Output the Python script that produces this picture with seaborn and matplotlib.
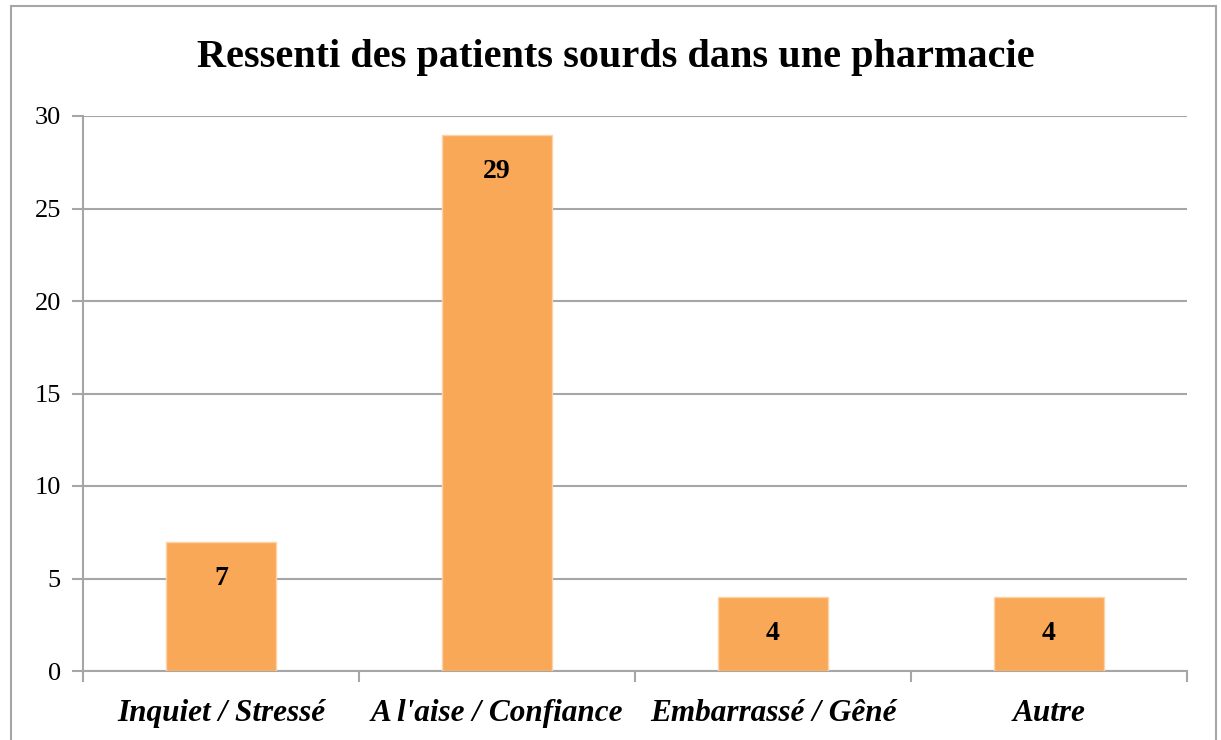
import matplotlib
matplotlib.use("Agg")
import matplotlib.pyplot as plt
import seaborn as sns
import pandas as pd
from matplotlib.patches import Rectangle

categories = ["Inquiet / Stressé", "A l'aise / Confiance", "Embarrassé / Gêné", "Autre"]
values = [7, 29, 4, 4]
yticks = [0, 5, 10, 15, 20, 25, 30]
title = "Ressenti des patients sourds dans une pharmacie"

df = pd.DataFrame({"cat": categories, "val": values})

sns.set_theme(style="white")
plt.rcParams['font.family'] = ['Liberation Serif', 'DejaVu Serif']

W, H = 1221, 740
fig = plt.figure(figsize=(W / 100, H / 100), dpi=100)
L, R, T, B = 83, 1187, 116, 671
ax = fig.add_axes([L / W, 1 - B / H, (R - L) / W, (B - T) / H])

sns.barplot(data=df, x="cat", y="val", color="#F9A857", width=0.4, ax=ax,
            saturation=1, edgecolor="#FBD3A6", linewidth=1, zorder=3)

ax.set_ylim(0, 30)
ax.set_xlim(-0.5, len(categories) - 0.5)
ax.set_yticks(yticks)
ax.set_yticklabels([str(t) for t in yticks], fontsize=19)
ax.yaxis.grid(True, color="#A6A6A6", linewidth=1.5, zorder=0)
ax.set_axisbelow(True)
ax.set_xlabel("")
ax.set_ylabel("")

for s in ["top", "right"]:
    ax.spines[s].set_visible(False)
for s in ["left", "bottom"]:
    ax.spines[s].set_color("#A6A6A6")
    ax.spines[s].set_linewidth(1.5)

ax.tick_params(axis="y", length=8, width=1.5, color="#A6A6A6", pad=8, labelcolor="black", left=True)
# category ticks at boundaries
ax.set_xticks([i - 0.5 for i in range(len(categories) + 1)], minor=False)
ax.set_xticklabels([""] * (len(categories) + 1))
ax.tick_params(axis="x", which="major", length=8, width=1.5, color="#A6A6A6", bottom=True)
ax.set_xticks(range(len(categories)), minor=True)
ax.set_xticklabels(categories, minor=True, fontsize=22.5, fontweight="bold", fontstyle="italic")
ax.tick_params(axis="x", which="minor", length=0, pad=20, labelcolor="black")

for i, v in enumerate(values):
    ax.annotate(str(v), (i, v), xytext=(0, -37), textcoords="offset pixels",
                ha="center", va="center", fontsize=20, fontweight="bold", color="black")

fig.text(616 / W, 1 - 58 / H, title, ha="center", va="center",
         fontsize=29, fontweight="bold", color="black")

fig.patches.append(Rectangle((11 / W, -0.05), (1216 - 11) / W, 1 - 6 / H + 0.05,
                             transform=fig.transFigure, fill=False,
                             edgecolor="#A6A6A6", linewidth=1.5))

fig.savefig("out.png", dpi=100)
